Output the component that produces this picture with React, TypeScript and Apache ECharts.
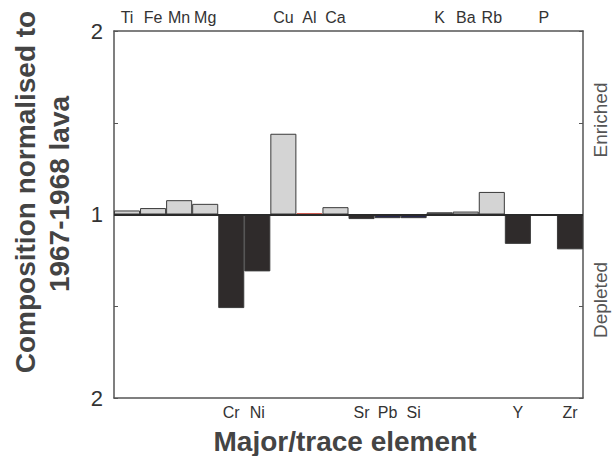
import React, { useEffect, useRef } from "react";
import * as echarts from "echarts";

const categories = ["Ti", "Fe", "Mn", "Mg", "Cr", "Ni", "Cu", "Al", "Ca", "Sr", "Pb", "Si", "K", "Ba", "Rb", "Y", "P", "Zr"];
// signed deviation from 1 (positive = enriched, negative = depleted)
const deviation = [0.022, 0.035, 0.078, 0.058, -0.51, -0.31, 0.44, 0.006, 0.04, -0.025, -0.02, -0.02, 0.012, 0.016, 0.123, -0.16, 0, -0.19];
const barColors = ["#d4d4d4", "#d4d4d4", "#d4d4d4", "#d4d4d4", "#2f2b2b", "#2f2b2b", "#d4d4d4", "#c0392b", "#d4d4d4", "#2f2b2b", "#25254a", "#25254a", "#6a6a6a", "#d4d4d4", "#d4d4d4", "#2f2b2b", "#d4d4d4", "#2f2b2b"];
const yTickLabels = { top: "2", mid: "1", bottom: "2" };

export default function App() {
  const ref = useRef<HTMLDivElement>(null);
  useEffect(() => {
    if (!ref.current) return;
    const chart = echarts.init(ref.current, undefined, { renderer: "svg" });
    const font = "Liberation Sans, Arial, sans-serif";
    const catAxis = (pos: "top" | "bottom") => ({
      type: "category",
      position: pos,
      data: categories,
      boundaryGap: true,
      axisLine: { show: true, onZero: false, lineStyle: { color: "#555", width: 1.5 } },
      axisTick: { show: false },
      axisLabel: {
        interval: 0,
        margin: 6,
        fontSize: 16,
        fontFamily: font,
        color: "#333",
        formatter: (v: string, i: number) => (pos === "top" ? (deviation[i] >= 0 ? v : "") : deviation[i] < 0 ? v : ""),
      },
    });
    chart.setOption({
      animation: false,
      grid: { left: 114, right: 33, top: 31, bottom: 58, containLabel: false },
      xAxis: [catAxis("bottom"), catAxis("top")],
      yAxis: [
        {
          type: "value",
          position: "left",
          min: -1,
          max: 1,
          interval: 0.5,
          splitLine: { show: false },
          axisLine: { show: true, lineStyle: { color: "#555", width: 1.5 } },
          axisTick: { show: true, inside: true, length: 4, lineStyle: { color: "#555" } },
          axisLabel: {
            margin: 11,
            fontSize: 22,
            fontFamily: font,
            color: "#333",
            formatter: (v: number) => (v === 0 ? yTickLabels.mid : v === 1 ? yTickLabels.top : v === -1 ? yTickLabels.bottom : ""),
          },
        },
        {
          type: "value",
          position: "right",
          min: -1,
          max: 1,
          interval: 0.5,
          splitLine: { show: false },
          axisLine: { show: true, lineStyle: { color: "#555", width: 1.5 } },
          axisTick: { show: true, inside: true, length: 4, lineStyle: { color: "#555" } },
          axisLabel: { show: false },
        },
      ],
      series: [
        {
          type: "bar",
          barCategoryGap: "0%",
          data: deviation.map((v, i) => ({
            value: v,
            itemStyle: {
              color: barColors[i],
              borderColor: barColors[i] === "#c0392b" ? "#c0392b" : "#3a3a3a",
              borderWidth: 1,
            },
          })),
          markLine: {
            silent: true,
            symbol: "none",
            label: { show: false },
            lineStyle: { color: "#2a2a2a", width: 2, type: "solid" },
            data: [{ yAxis: 0 }],
          },
        },
      ],
      graphic: [
        {
          type: "text",
          x: 25,
          y: 192,
          rotation: Math.PI / 2,
          style: {
            text: "Composition normalised to",
            fontSize: 28,
            fontWeight: "bold",
            fontFamily: font,
            fill: "#444",
            textAlign: "center",
            textVerticalAlign: "middle",
          },
        },
        {
          type: "text",
          x: 59,
          y: 194,
          rotation: Math.PI / 2,
          style: {
            text: "1967-1968 lava",
            fontSize: 28,
            fontWeight: "bold",
            fontFamily: font,
            fill: "#444",
            textAlign: "center",
            textVerticalAlign: "middle",
          },
        },
        {
          type: "text",
          x: 345,
          y: 441,
          style: {
            text: "Major/trace element",
            fontSize: 28,
            fontWeight: "bold",
            fontFamily: font,
            fill: "#444",
            textAlign: "center",
            textVerticalAlign: "middle",
          },
        },
        {
          type: "text",
          x: 600,
          y: 120,
          rotation: Math.PI / 2,
          style: {
            text: "Enriched",
            fontSize: 19,
            fontFamily: font,
            fill: "#555",
            textAlign: "center",
            textVerticalAlign: "middle",
          },
        },
        {
          type: "text",
          x: 600,
          y: 300,
          rotation: Math.PI / 2,
          style: {
            text: "Depleted",
            fontSize: 19,
            fontFamily: font,
            fill: "#555",
            textAlign: "center",
            textVerticalAlign: "middle",
          },
        },
      ],
    });
    return () => chart.dispose();
  }, []);
  return <div ref={ref} style={{ width: 616, height: 456, position: "absolute", left: 0, top: 0, background: "#fff" }} />;
}
